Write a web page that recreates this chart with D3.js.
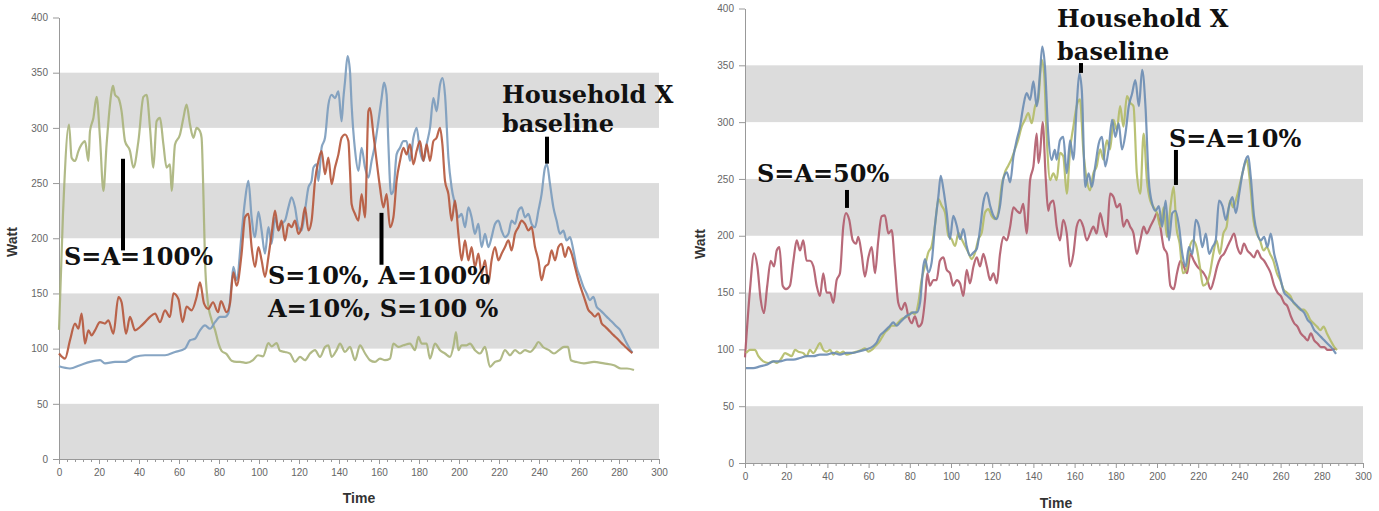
<!DOCTYPE html>
<html>
<head>
<meta charset="utf-8">
<script src="https://cdn.jsdelivr.net/npm/d3@7"></script>
<style>
  body { margin: 0; background: #fff; }
  .axis text { font-family: Arial, "Liberation Sans", sans-serif; font-size: 10px; fill: #666; }
  .axis path, .axis line { stroke: #999; }
  .axis-title { font-family: Arial, "Liberation Sans", sans-serif; font-weight: bold; font-size: 14px; fill: #333; }
  .note { font-family: "DejaVu Serif", serif; font-weight: bold; font-size: 24px; fill: #111; }
</style>
</head>
<body>
<div id="chart"></div>
<script>
// ---- data: [time, watt] ----
const yTicks = [0, 50, 100, 150, 200, 250, 300, 350, 400];
const xTicks = [0, 20, 40, 60, 80, 100, 120, 140, 160, 180, 200, 220, 240, 260, 280, 300];
const bands = [[0, 50], [100, 150], [200, 250], [300, 350]];

// left chart
const leftFull = [[0,117],[2,222],[5,303],[6.3,273],[8,270],[9.7,279],[11.3,285],[13,288],[14.7,270],[15.5,297],[17.2,309],[18.8,328],[20.5,291],[22.2,243],[23.8,285],[26.3,333],[27,338],[28,330],[29.7,327],[31.3,315],[33,288],[35.5,279],[37.2,264],[39.7,288],[42.2,328],[43.8,330],[45.5,300],[47.2,264],[48.8,306],[50.5,309],[52.2,285],[53.8,264],[55.5,267],[56.3,243],[58,285],[60.5,294],[62.2,309],[63.8,321],[65.5,303],[67.2,291],[68.8,300],[70.5,297],[71.3,291],[72.2,240],[73,180],[74.3,144],[76.3,126],[78,117],[79.7,105],[81.3,98],[83.8,95],[86.3,89],[88.8,88],[90.5,88],[93.8,87],[97,89.5],[99.5,94],[102,93],[104.7,105],[106.3,102],[108.8,105],[110.5,98],[113,97],[115.5,95.5],[118,88],[120.5,92.5],[123,89.5],[125.5,95.5],[128,98.6],[130.5,92.5],[133,101.5],[134.7,103],[136.3,92.5],[138.8,98.6],[140.5,104.6],[143,97],[145.5,101.5],[148,89.5],[150.5,103],[153,95.8],[155.5,89.5],[158,88],[160.5,91],[163,89.5],[165.5,91],[167.2,104.6],[169.7,101.5],[172.2,103],[175.5,104.6],[178,98.6],[179.7,110.6],[181.3,104.6],[183.8,104.6],[185.5,91],[188,104.6],[190.5,98.6],[193,95.6],[195.5,92.5],[197.5,104.6],[198.5,115],[199.7,98.6],[201.3,103],[203.8,103],[205.5,104.6],[208,98.6],[210.5,95.6],[213,101.5],[215.5,83.5],[218,88],[220.5,89.5],[223,98.6],[225.5,94],[228,98.6],[230.5,95.6],[233,98.6],[235.5,97],[238,101.5],[239.7,106],[242,101.5],[245,98.6],[247.5,95.6],[250,98.6],[252.5,101.5],[254.5,101.5],[256,89.5],[258.5,88],[262.5,86.6],[267.5,88],[272.5,86.6],[277.5,85],[281,82],[284,82],[287.5,80.6]];

const leftBase = [[0,84],[5.5,82],[10.5,85],[15.5,88],[20.5,89.5],[23,86.6],[28,88],[33,88],[38,92.5],[43,94],[48,94],[53,94],[58,97],[63,100],[65.5,107.6],[68,109],[70.5,116.6],[73,121],[75.5,118],[78,124],[80.5,128.7],[83,128.7],[84.7,132],[86.3,159],[87.2,174],[88.8,162],[91.3,204],[93,234],[94.7,252],[96.3,219],[98,201],[99.7,224],[101.3,207],[103,186],[104.7,210],[106.3,195],[108,219],[109.7,207],[111.3,213],[113,216],[114.7,228],[116.3,237],[118,228],[119.7,210],[121.3,207],[123,225],[124.7,246],[126.3,252],[127.2,264],[128.8,267],[129.7,252],[131.3,282],[133,291],[134.7,321],[136.3,330],[138,327],[139.7,333],[141.3,306],[142.2,327],[143,342],[144.3,365],[145.5,351],[146.3,321],[148,280],[149.7,261],[151.3,282],[153,264],[154.7,255],[156.3,270],[158,285],[159.7,306],[161.3,327],[162.5,341],[163.8,330],[164.7,285],[166,240],[167.2,243],[168.8,276],[170.5,282],[172.2,288],[173.8,288],[175.5,270],[177.2,291],[178.8,300],[180.5,279],[182.2,270],[183.8,285],[185.5,300],[187.2,327],[188.8,315],[190.5,339],[191.7,345],[193,330],[194.7,273],[196.3,246],[198,231],[199.7,219],[201.3,222],[203,210],[204.7,228],[206.3,219],[208,204],[209.7,213],[211.3,192],[213,204],[214.7,192],[216.3,201],[218,213],[219.7,216],[221.3,207],[223,201],[224.7,204],[226.3,216],[228,213],[229.7,225],[231.3,228],[233,219],[234.7,222],[236.3,213],[238,210],[239.7,225],[241.3,240],[243,264],[244,267],[245.5,249],[247.2,228],[248.8,216],[250.5,204],[252.2,207],[253.8,198],[255.5,201],[257.2,189],[258.8,174],[260.5,165],[262.2,156],[263.8,150],[265.5,144],[267.2,147],[268.8,138],[270.5,135],[272.2,132],[273.8,129],[275.5,126],[277.2,123],[278.8,120],[280.5,117],[282.2,111],[283.8,105],[285.5,99.5],[286.7,96.5]];

const leftMixed = [[0,95.6],[3,91],[5.5,107.6],[8,122.7],[9.7,118],[11.3,131.7],[13,104.6],[14.7,116.6],[16.3,112],[18,116.6],[20.5,124],[23,122.7],[24.7,125.6],[27.2,113.5],[29.7,146.7],[31.3,142],[33.5,113.5],[35.5,128.7],[38,116.6],[40.5,119.6],[43,124],[45.5,128.7],[48,131.7],[50.5,124],[53,134.7],[55.5,128.7],[57.2,150],[59.7,145],[61.8,124],[63.8,138],[66.3,134.7],[68.8,146.7],[70.5,160],[72.5,141],[74.7,136],[77,142],[79.5,133],[81,143],[83.8,133],[85.5,141],[87.2,169],[88.8,157],[91.3,186],[93,219],[94.7,222],[96.3,192],[98,174],[99.7,192],[101.3,180],[103,165],[104.7,183],[106.3,204],[108,225],[109.7,207],[111.3,216],[113,198],[114.7,213],[116.3,210],[118,216],[119.7,204],[121.3,210],[123,228],[124.7,207],[126.3,216],[128,252],[129.7,270],[131.3,279],[133,258],[134.7,273],[136.3,249],[138,264],[139.7,276],[141.3,291],[143,294],[144.7,288],[145.5,261],[146.3,231],[148,222],[149.7,216],[151.3,240],[153,219],[154.7,315],[155.5,318],[157.2,294],[158.8,270],[160.5,246],[162.2,228],[163.8,240],[165.5,210],[167.2,219],[168.8,252],[170.5,270],[172.2,282],[173.8,276],[175.5,285],[177.2,267],[178.8,279],[180.5,288],[182.2,270],[183.8,285],[185.5,270],[187.2,288],[188.8,291],[190.5,300],[191.7,285],[193,252],[194.7,240],[196.3,216],[198,234],[199.7,204],[201.3,180],[203,198],[204.7,180],[206.3,192],[208,174],[209.7,186],[211.3,168],[213,180],[214.7,159],[216.3,180],[218,192],[219.7,180],[221.3,186],[223,192],[224.7,198],[226.3,189],[228,204],[229.7,210],[231.3,216],[233,213],[234.7,207],[236.3,210],[238,192],[239.7,180],[241.3,162],[243,174],[244.7,177],[246.3,189],[248,180],[249.7,192],[251.3,195],[253,183],[254.7,192],[256.3,186],[258,174],[259.7,162],[261.3,153],[263,144],[264.7,135],[266.3,132],[268,129],[269.7,132],[271.3,123],[273,120],[274.7,117],[276.3,114],[278,111],[279.7,108],[281.3,105],[283,102],[284.7,99],[286.7,96]];

// right chart
const rightHalf = [[0,93],[2.4,152],[4.4,184.6],[6,173],[7.6,144],[9.2,132],[10.8,156],[12.5,178],[14.1,173],[15.4,187],[16.7,190],[18.3,156],[19.9,153],[21.8,156],[23.5,178],[25.1,196],[26.7,187],[28.3,196],[29.9,178],[31.5,178],[33.2,173],[34.8,156],[36.4,147],[38,167],[39.6,150],[41.3,150],[42.9,141],[44.5,161],[46.1,167],[47.7,208],[49,220],[50.6,214],[52.3,196],[53.9,193],[55,199],[56.6,184],[58.2,164],[59.9,181],[61.5,190],[63.1,167],[64.7,196],[66.3,217],[67.9,218],[69.6,202],[71.2,205],[72.8,173],[74.4,141],[76,135],[77.7,141],[79.3,129],[80.9,123],[82.5,129],[84.2,120],[85.8,123],[87.4,144],[88.5,167],[89.8,156],[91.4,161],[93,161],[94.6,178],[96.3,181],[97.9,170],[99.5,167],[101.1,156],[102.8,161],[104.4,158],[106,147],[107.6,170],[109.2,158],[110.9,173],[112.5,181],[114.1,173],[115.7,184],[117.4,173],[119,161],[120.6,167],[122.2,158],[123.8,184],[125.4,199],[127.1,196],[128.7,208],[130.3,225],[131.9,222],[133.5,220],[135.1,228],[136.7,202],[138.4,249],[140,261],[141.6,290],[142.4,264],[143.2,272],[144.5,300],[146,250],[147.2,222],[148,228],[149.7,231],[151.3,208],[152.9,196],[154.5,214],[156.2,202],[157.8,173],[159.4,184],[161,208],[162.6,214],[164.2,208],[165.9,196],[167.5,202],[169.1,208],[170.7,202],[172.4,220],[174,208],[175.6,199],[177.2,237],[178.9,234],[180.5,225],[182.1,228],[183.7,208],[185.4,214],[187,208],[188.6,202],[190.2,184],[191.9,196],[193.5,208],[195.1,202],[196.7,208],[198.4,214],[200,220],[201.6,208],[203.2,190],[204.9,184],[206.5,156],[208.1,153],[209.7,167],[211.4,178],[213,173],[214.6,167],[216.2,184],[217.9,178],[219.5,173],[221.1,170],[222.7,167],[224.4,161],[226,153],[227.6,161],[229.2,173],[230.9,181],[232.5,184],[234.1,190],[235.7,196],[237.4,202],[239,190],[240.6,184],[242.2,193],[243.9,187],[245.5,184],[247.1,181],[248.7,187],[250.4,181],[252,178],[253.6,173],[255.2,167],[256.9,156],[258.5,150],[260.1,147],[261.7,141],[263.3,138],[265,129],[266.6,123],[268.2,120],[269.8,114],[271.5,111],[273.1,108],[274.7,114],[276.3,108],[278,105],[279.6,102],[281.2,102],[282.8,99.5],[284.5,99.5],[286.9,101]];

const rightTen = [[0.5,96.7],[2.4,99.5],[4.8,99.5],[6.5,94],[8.9,89.4],[11.3,88],[13.8,89.4],[15.4,88],[17.8,92.4],[19.4,96.7],[21,95.4],[22.6,94],[24.3,99.5],[25.9,98],[28.3,96.7],[29.9,94],[31.5,99.5],[33.2,96.7],[34.8,101],[36.4,105.5],[38,99.5],[39.6,98],[41.3,99.5],[42.9,95.4],[44.5,98],[46.1,96.7],[47.7,98],[49.3,95.4],[51.8,96.7],[54.2,98],[56.6,99.5],[58.2,101],[59.9,98],[61.5,99.5],[63.1,102.5],[64.7,105.5],[66.3,110],[67.9,114.8],[69.6,117.8],[71.2,120.8],[72.8,120.8],[74.4,123.7],[76,126.7],[77.7,128],[79.3,129.6],[80.9,132.5],[82.5,131],[84.2,141.4],[85.8,162],[87.4,173.6],[89,185.3],[90.6,191],[92.2,208.8],[93.9,232.3],[95.5,226.4],[97.1,220.5],[98.7,200],[100.3,197],[102,191],[103.6,202.6],[105.2,197],[106.8,191],[108.4,185.3],[110,179.5],[111.7,185.3],[113.3,197],[114.9,202.6],[116.5,220.5],[118.1,223.5],[119.7,217.5],[121.4,214.6],[123,220.5],[124.6,244],[126.2,255.8],[127.8,261.7],[129.4,267.6],[131.1,276.4],[132.7,285],[134.3,296],[135.9,302],[137.5,308],[139.2,299],[140.8,314],[142.4,320],[144,355],[145.2,343],[146.5,285],[148.1,249],[149.7,255],[151.3,249],[152.9,273],[154.5,270],[156.2,237],[157.8,276],[159.4,296],[161,314],[162.6,320],[164.2,276],[165.9,249],[167.5,240],[169.1,255],[170.7,261],[172.4,276],[174,267],[175.6,284],[177.2,276],[178.9,302],[180.5,293],[182.1,314],[183.7,296],[185.4,323],[187,317],[188.6,314],[190.2,255],[191.9,237],[193.5,290],[195.1,249],[196.7,231],[198.4,225],[200,220],[201.6,208],[203.2,225],[204.9,199],[206.5,225],[208.1,243],[209.4,208],[211,193],[212.6,167],[214.3,170],[215.9,190],[217.5,196],[219.2,190],[220.8,173],[222.4,156],[224,158],[225.7,167],[227.3,184],[228.9,196],[230.5,184],[232.2,202],[233.8,208],[235.4,231],[237,225],[238.7,234],[240.3,246],[241.9,258],[243.5,267],[245.2,246],[246.8,214],[248.4,202],[250,196],[251.7,187],[253.3,190],[254.9,184],[256.5,178],[258.2,167],[259.8,161],[261.4,153],[263,150],[264.7,147],[266.3,141],[267.9,138],[269.5,135],[271.2,135],[272.8,132],[274.4,126],[276,123],[277.7,120],[279.3,117],[280.9,120],[282.5,114],[284.2,108],[286.1,102],[287.4,99.5]];

const rightBase = [[0.5,83.5],[4,83.5],[7.3,85],[10.5,86.5],[13.8,89.4],[17,89.4],[20.4,91],[23.5,91],[26.7,92.4],[30,94],[33.2,94],[36.4,95.4],[39.6,95.4],[42.9,97],[46.1,95.4],[49.3,97],[52.5,97],[55.8,98.5],[59,100],[62.3,103],[63.9,106],[65.5,112],[67.1,114.8],[68.8,117.8],[70.4,120.8],[72,123.7],[73.6,120.8],[75.2,123.7],[76.9,126.7],[78.5,129.6],[80.1,131],[81.7,132.5],[83.4,132.5],[85,141.4],[86.6,173.6],[87.4,179.5],[89,167.8],[90.6,176.5],[92.2,208.8],[93.9,235.2],[95,252.8],[96.3,241],[97.9,220.5],[99.5,197],[101.1,217.5],[102.8,208.8],[104.4,197],[106,205.8],[107.6,191],[109.2,182.4],[110.9,185.3],[112.5,188.3],[114.1,205.8],[115.7,229.3],[117.4,238],[119,226.4],[120.6,217.5],[122.2,214.6],[123.8,226.4],[125.4,250],[127.1,255.8],[128.7,247],[130.3,269.6],[131.9,284.3],[133.5,296],[135.1,314],[136.7,325.5],[138.4,319.6],[140,335.8],[141.6,314],[143.2,343],[144.3,366.5],[145.6,349],[147.2,290],[148.8,266.7],[150.4,275.5],[151.3,267],[152.9,284],[154.5,287],[156.2,255],[157.8,284],[159.4,267],[161,314],[162.3,343],[163.5,328],[165.2,243],[166.8,255],[168.4,243],[170,261],[171.7,281],[173.3,287],[174.9,261],[176.5,276],[178.2,302],[179.8,287],[181.4,299],[183,276],[184.7,290],[186.3,314],[187.9,325],[189.5,337],[191.2,314],[192.8,346],[194.4,314],[196,249],[197.7,228],[199.3,222],[200.9,226],[202.5,208],[204.2,231],[205.8,196],[207.4,220],[209,222],[210.7,208],[212.3,184],[213.9,173],[215.5,190],[217.2,184],[218.8,214],[220.4,208],[222,190],[223.7,202],[225.3,184],[226.9,190],[228.5,196],[230.1,231],[231.8,226],[233.4,214],[235,226],[236.6,234],[238.3,220],[239.9,237],[241.5,255],[243.1,267],[244.3,270],[245.5,252],[247.1,217],[248.7,202],[250.4,196],[252,199],[253.6,190],[255.2,202],[256.9,184],[258.5,173],[260.1,161],[261.7,150],[263.3,147],[265,144],[266.6,141],[268.2,138],[269.8,135],[271.5,132],[273.1,126],[274.7,123],[276.3,117],[278,114],[279.6,111],[281.2,108],[282.8,105],[284.5,102],[286.9,96]];

// ---- layout ----
const W = 1379, H = 511;
const svg = d3.select("#chart").append("svg")
    .attr("width", W)
    .attr("height", H);

const panels = [
    {
        x0: 59, x1: 659, yTop: 17.5, yBottom: 459, wattX: 17, wattY: 242, timeX: 359, timeY: 503,
        series: [
            {data: leftFull, color: "#a8b27a"},
            {data: leftBase, color: "#7a9bbd"},
            {data: leftMixed, color: "#b5553a"}
        ],
        notes: [
            {lines: ["S=A=100%"], t: 2.5, w: 175.4, dy: 0},
            {lines: ["S=10%, A=100%", "A=10%, S=100 %"], t: 104.5, w: 159, dy: 33},
            {lines: ["Household X", "baseline"], t: 221.5, w: 322.8, dy: 29}
        ],
        marks: [
            {t: 32, w0: 272, w1: 189},
            {t: 161.25, w0: 223, w1: 176},
            {t: 244, w0: 292, w1: 267.6}
        ]
    },
    {
        x0: 745, x1: 1363, yTop: 8.5, yBottom: 463, wattX: 705, wattY: 244, timeX: 1056, timeY: 508,
        series: [
            {data: rightHalf, color: "#b05a6a"},
            {data: rightTen, color: "#b2bb66"},
            {data: rightBase, color: "#6a8cb2"}
        ],
        notes: [
            {lines: ["S=A=50%"], t: 5.8, w: 247.4, dy: 0},
            {lines: ["Household X", "baseline"], t: 151.5, w: 383.8, dy: 33},
            {lines: ["S=A=10%"], t: 205.8, w: 278.2, dy: 0}
        ],
        marks: [
            {t: 49.5, w0: 240.3, w1: 224.5},
            {t: 163.1, w0: 352, w1: 343.3},
            {t: 209.2, w0: 275.5, w1: 244.7}
        ]
    }
];

panels.forEach(function (p) {
    let x = d3.scaleLinear().domain([0, 300]).range([p.x0, p.x1]);
    let y = d3.scaleLinear().domain([0, 400]).range([p.yBottom, p.yTop]);

    let g = svg.append("g");

    // grey bands
    g.selectAll(".band")
        .data(bands)
        .enter().append("rect")
        .attr("class", "band")
        .attr("x", x(0))
        .attr("width", x(300) - x(0))
        .attr("y", d => y(d[1]))
        .attr("height", d => y(d[0]) - y(d[1]))
        .attr("fill", "#dcdcdc");

    // minor ticks on time axis
    let minor = d3.range(0, 301, 4).filter(v => v % 20 !== 0);
    g.append("g")
        .attr("class", "axis")
        .attr("transform", "translate(0," + p.yBottom + ")")
        .call(d3.axisBottom(x).tickValues(minor).tickSize(3).tickFormat(""))
        .call(a => a.select(".domain").remove());

    g.append("g")
        .attr("class", "axis x-axis")
        .attr("transform", "translate(0," + p.yBottom + ")")
        .call(d3.axisBottom(x).tickValues(xTicks).tickSize(5).tickSizeOuter(0).tickPadding(5));

    g.append("g")
        .attr("class", "axis y-axis")
        .attr("transform", "translate(" + p.x0 + ",0)")
        .call(d3.axisLeft(y).tickValues(yTicks).tickSize(6).tickSizeOuter(0).tickPadding(5));

    // axis titles
    g.append("text")
        .attr("class", "axis-title")
        .attr("transform", "translate(" + p.wattX + "," + p.wattY + ") rotate(-90)")
        .attr("text-anchor", "middle")
        .text("Watt");

    g.append("text")
        .attr("class", "axis-title")
        .attr("x", p.timeX)
        .attr("y", p.timeY)
        .attr("text-anchor", "middle")
        .text("Time");

    // lines
    let line = d3.line()
        .x(d => x(d[0]))
        .y(d => y(d[1]))
        .curve(d3.curveMonotoneX);

    g.selectAll(".series")
        .data(p.series)
        .enter().append("path")
        .attr("class", "series")
        .attr("d", d => line(d.data))
        .attr("fill", "none")
        .attr("stroke", d => d.color)
        .attr("stroke-width", 2.2)
        .attr("stroke-opacity", 0.9)
        .attr("stroke-linejoin", "round");

    // annotations
    g.selectAll(".mark")
        .data(p.marks)
        .enter().append("line")
        .attr("class", "mark")
        .attr("x1", d => x(d.t)).attr("x2", d => x(d.t))
        .attr("y1", d => y(d.w0)).attr("y2", d => y(d.w1))
        .attr("stroke", "#000")
        .attr("stroke-width", 4);

    p.notes.forEach(function (n) {
        let t = g.append("text")
            .attr("class", "note")
            .attr("x", x(n.t))
            .attr("y", y(n.w));
        n.lines.forEach(function (s, i) {
            t.append("tspan")
                .attr("x", x(n.t))
                .attr("dy", i === 0 ? 0 : n.dy)
                .text(s);
        });
    });
});
</script>
</body>
</html>
